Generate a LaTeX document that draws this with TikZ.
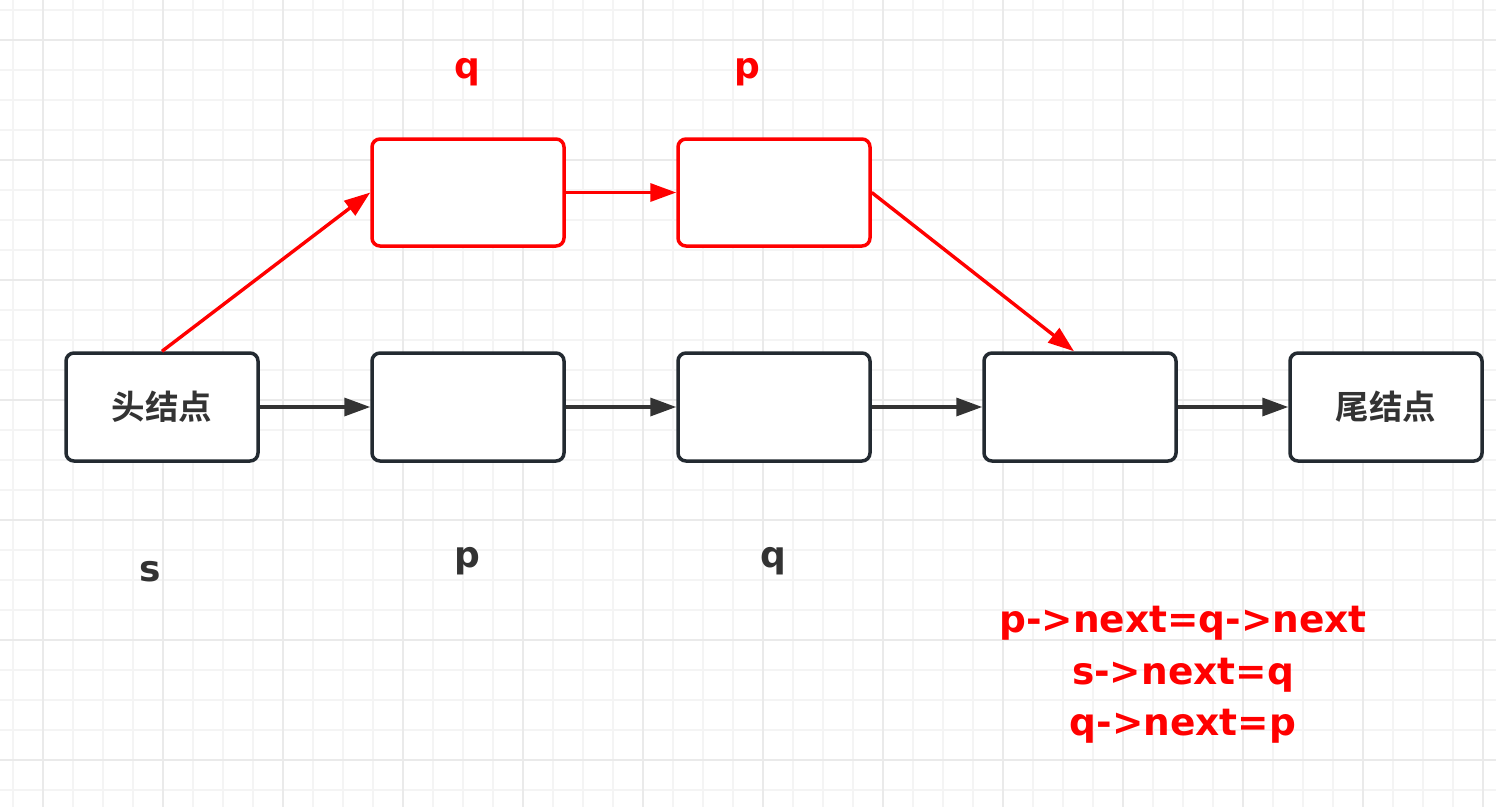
\documentclass[tikz,border=0pt]{standalone}
\usepackage{fontspec}
\newfontfamily\lat{DejaVu Sans}
\newfontfamily\cjk{Noto Sans CJK SC}[BoldFont={* Bold}]
\usetikzlibrary{arrows.meta}
\definecolor{boxline}{HTML}{232A31}
\definecolor{txt}{HTML}{333333}
\definecolor{red0}{HTML}{FF0000}
\definecolor{gridminor}{HTML}{F4F4F4}
\definecolor{gridmajor}{HTML}{EAEAEA}
\begin{document}
\begin{tikzpicture}[x=1pt,y=-1pt,
  box/.style={draw=boxline, line width=3.5pt, rounded corners=8pt, minimum width=192pt, minimum height=108pt, inner sep=0pt, fill=white, text=txt, font=\cjk\bfseries\fontsize{33.5}{33.5}\selectfont},
  rbox/.style={box, draw=red0, minimum height=107pt},
  arr/.style={-{Triangle[length=26pt,width=18pt]}, line width=3.4pt, draw=txt},
  rarr/.style={arr, draw=red0},
  lab/.style={font=\lat\bfseries\fontsize{36}{36}\selectfont, anchor=base, inner sep=0pt},
  code/.style={lab, font=\lat\bfseries\fontsize{37.5}{37.5}\selectfont, text=red0},
]
\useasboundingbox (0,0) rectangle (1496,807);
\fill[white] (0,0) rectangle (1496,807);
\foreach \i in {0,...,49} {
  \draw[gridminor, line width=2pt] (12.5+30*\i,0) -- (12.5+30*\i,807);
}
\foreach \j in {0,...,26} {
  \draw[gridminor, line width=2pt] (0,10+30*\j) -- (1496,10+30*\j);
}
\foreach \i in {0,...,12} {
  \draw[gridmajor, line width=2pt] (42.5+120*\i,0) -- (42.5+120*\i,807);
}
\foreach \j in {0,...,6} {
  \draw[gridmajor, line width=2pt] (0,40+120*\j) -- (1496,40+120*\j);
}
% bottom row
\node[box] (n1) at (162,407) {头结点};
\node[box] (n2) at (468,407) {};
\node[box] (n3) at (774,407) {};
\node[box] (n4) at (1080,407) {};
\node[box] (n5) at (1386,407) {尾结点};
% top row
\node[rbox] (q) at (468,192.5) {};
\node[rbox] (p) at (774,192.5) {};
% connectors
\draw[arr] (n1.east) -- (n2.west);
\draw[arr] (n2.east) -- (n3.west);
\draw[arr] (n3.east) -- (n4.west);
\draw[arr] (n4.east) -- (n5.west);
\coordinate (t4) at ([xshift=-6pt]n4.north);
\draw[rarr] (n1.north) -- (q.west);
\draw[rarr] (q.east) -- (p.west);
\draw[rarr] (p.east) -- (t4);
% labels
\node[lab, text=red0] (lq) at (467,78) {q};
\node[lab, text=red0] (lp) at (747,78) {p};
\node[lab, text=txt] (ls) at (150,581) {s};
\node[lab, text=txt] (lp2) at (467,567) {p};
\node[lab, text=txt] (lq2) at (773,567) {q};
\node[code] (c1) at (1183,632) {p->next=q->next};
\node[code] (c2) at (1183,684) {s->next=q};
\node[code] (c3) at (1183,735) {q->next=p};
\end{tikzpicture}
\end{document}
